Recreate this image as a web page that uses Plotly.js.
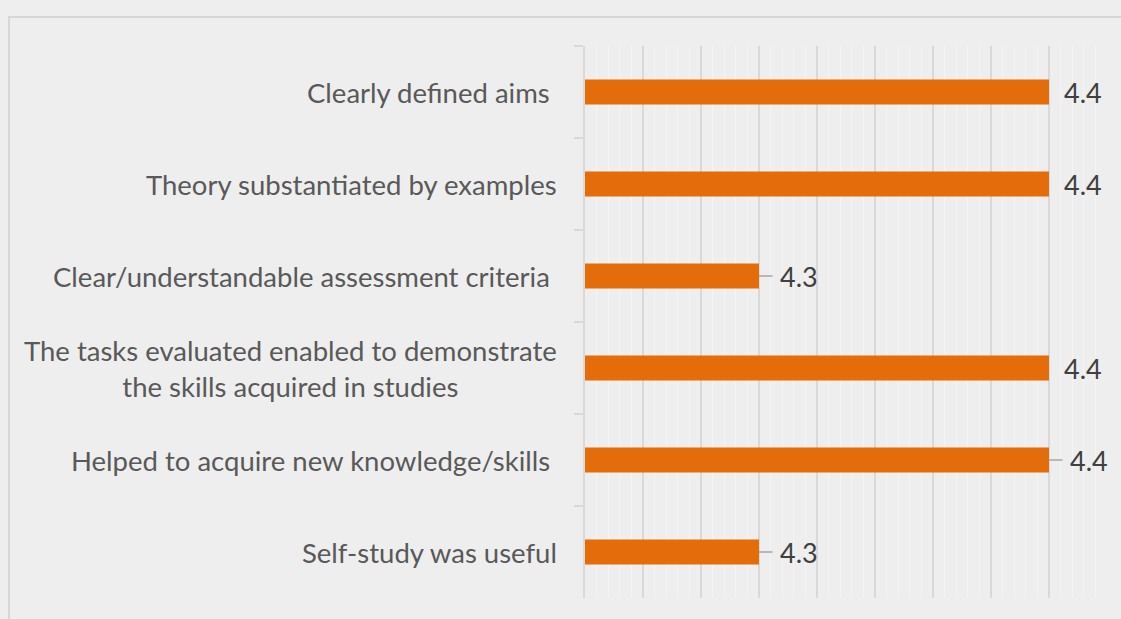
<!DOCTYPE html>
<html>
<head>
<meta charset="utf-8">
<script src="https://cdn.plot.ly/plotly-3.0.1.min.js"></script>
<style>
  html, body { margin: 0; padding: 0; background: #eeeeee; }
  #chart { width: 1121px; height: 619px; }
</style>
</head>
<body>
<div id="chart"></div>
<script>
// Data (top to bottom as shown)
var categories = [
  "Clearly defined aims ",
  "Theory substantiated by examples",
  "Clear/understandable assessment criteria ",
  "The tasks evaluated enabled to demonstrate<br>the skills acquired in studies",
  "Helped to acquire new knowledge/skills ",
  "Self-study was useful"
];
var values = [4.4, 4.4, 4.3, 4.4, 4.4, 4.3];
var labelTexts = ["4.4", "4.4", "4.3", "4.4", "4.4", "4.3"];
var hasLeader = [false, false, true, false, true, true];

var FONT = "Lato, 'Open Sans', sans-serif";

var trace = {
  type: 'bar',
  orientation: 'h',
  y: categories,
  x: values,
  marker: { color: '#E46C0A', line: { width: 0 } },
  hoverinfo: 'x+y'
};

var annotations = [];
// category labels (centered multi-line, right-aligned block)
categories.forEach(function (c) {
  annotations.push({
    xref: 'paper', yref: 'y', x: 0, y: c,
    text: c, showarrow: false,
    xanchor: 'right', yanchor: 'middle', align: 'center',
    xshift: -26,
    font: { family: FONT, size: 27.5, color: '#595959' }
  });
});
// data labels
categories.forEach(function (c, i) {
  var a = {
    xref: 'x', yref: 'y', x: values[i], y: c,
    text: labelTexts[i],
    font: { family: FONT, size: 27, color: '#404040' }
  };
  if (hasLeader[i]) {
    a.showarrow = true;
    a.ax = 40; a.ay = 0;
    a.arrowhead = 0; a.arrowwidth = 1.5; a.arrowcolor = '#a6a6a6';
    a.standoff = 0;
    a.startstandoff = 6;
  } else {
    a.showarrow = false;
    a.xanchor = 'left';
    a.xshift = 13;
  }
  annotations.push(a);
});

var layout = {
  width: 1121, height: 619,
  margin: { l: 585, r: 14, t: 46, b: 21, pad: 0 },
  paper_bgcolor: '#eeeeee',
  plot_bgcolor: '#eeeeee',
  showlegend: false,
  bargap: 0.73,
  font: { family: FONT, color: '#595959' },
  xaxis: {
    range: [4.24, 4.42],
    tick0: 4.24, dtick: 0.02,
    showticklabels: false,
    ticks: '',
    showgrid: true, gridcolor: '#d9d9d9', gridwidth: 1.5,
    minor: { dtick: 0.004, showgrid: true, gridcolor: '#f4f4f4', gridwidth: 1 },
    zeroline: false, showline: false,
    fixedrange: true
  },
  yaxis: {
    autorange: 'reversed',
    showticklabels: false,
    showline: true, linecolor: '#d9d9d9', linewidth: 2,
    ticks: 'outside', tickson: 'boundaries', ticklen: 9, tickwidth: 2, tickcolor: '#d9d9d9',
    showgrid: false, zeroline: false,
    fixedrange: true
  },
  annotations: annotations,
  shapes: [{
    type: 'rect', xref: 'paper', yref: 'paper',
    x0: -1.1034, x1: 1.2, y0: -0.2, y1: 1.0525,
    line: { color: '#d6d6d6', width: 2 },
    fillcolor: 'rgba(0,0,0,0)', layer: 'below'
  }]
};

Plotly.newPlot('chart', [trace], layout, { displayModeBar: false, staticPlot: true });
</script>
</body>
</html>
